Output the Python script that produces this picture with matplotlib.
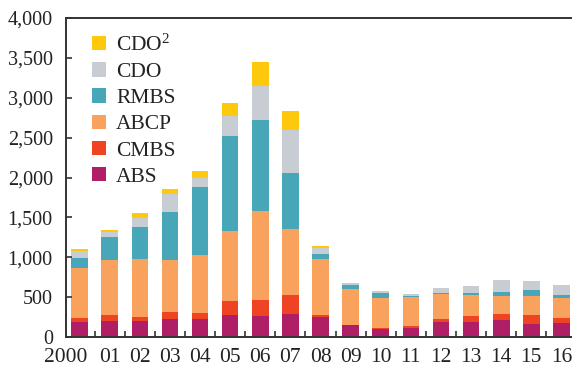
import matplotlib
matplotlib.use("Agg")
import matplotlib.pyplot as plt
import matplotlib.transforms as mtransforms
import numpy as np

plt.rcParams['font.family'] = ['Liberation Serif', 'DejaVu Serif']
plt.rcParams['mathtext.fontset'] = 'custom'
plt.rcParams['mathtext.rm'] = 'Liberation Serif'
plt.rcParams['mathtext.it'] = 'Liberation Serif:italic'
plt.rcParams['mathtext.bf'] = 'Liberation Serif:bold'

years = ["2000", "01", "02", "03", "04", "05", "06", "07", "08",
         "09", "10", "11", "12", "13", "14", "15", "16"]
abs_ = [185, 200, 200, 225, 225, 275, 262, 287, 250, 150, 100, 112, 187, 187, 212, 162, 175]
cmbs = [50, 75, 50, 87, 75, 175, 200, 238, 25, 0, 12, 25, 38, 75, 75, 113, 62]
abcp = [625, 687, 725, 650, 725, 875, 1113, 825, 700, 450, 375, 363, 312, 263, 225, 237, 250]
rmbs = [125, 288, 400, 600, 850, 1200, 1150, 712, 62, 50, 63, 12, 13, 25, 50, 75, 38]
cdo = [90, 62, 115, 225, 125, 250, 425, 538, 75, 25, 25, 25, 62, 87, 150, 113, 125]
cdo2 = [25, 25, 60, 63, 87, 162, 300, 237, 25, 0, 0, 0, 0, 0, 0, 0, 0]

series = [("ABS", abs_, "#B01E65"),
          ("CMBS", cmbs, "#EE4424"),
          ("ABCP", abcp, "#F9A25E"),
          ("RMBS", rmbs, "#47A7B9"),
          ("CDO", cdo, "#C8CDD3"),
          ("CDO$^{\\mathrm{2}}$", cdo2, "#FEC90D")]

fig = plt.figure(figsize=(5.72, 3.66), dpi=100)
ax = fig.add_axes([66/572, 1-337/366, (572-66)/572, (337-18)/366])

x = np.arange(len(years))
bottom = np.zeros(len(years))
handles = []
for name, vals, col in series:
    v = np.array(vals, dtype=float)
    b = ax.bar(x, v, bottom=bottom, width=0.55, color=col, label=name, linewidth=0)
    bottom += v
    handles.append(b)

ax.set_xlim(-0.45, 16.35)
ax.set_ylim(0, 4000)
yt = np.arange(0, 4001, 500)
ax.set_yticks(yt)
ax.set_yticklabels([f"{int(t):,}" for t in yt])
ax.set_xticks(x)
ax.set_xticklabels(years)
ax.set_xticks(np.arange(0.5, 16, 1), minor=True)

ax.spines["right"].set_visible(False)
for s in ["left", "top", "bottom"]:
    ax.spines[s].set_color("#333333")
    ax.spines[s].set_linewidth(1.4)

ax.tick_params(axis="y", direction="in", length=4, width=1.2, color="#333333",
               labelsize=14.5, pad=9.5, labelcolor="#222222")
ax.tick_params(axis="x", which="major", length=0, labelsize=15.5, pad=8, labelcolor="#222222")
ax.tick_params(axis="x", which="minor", direction="in", length=4, width=1.2, color="#333333")

lab0 = ax.get_xticklabels()[0]
lab0.set_horizontalalignment("right")
lab0.set_transform(lab0.get_transform() +
                   mtransforms.ScaledTranslation(8/100, 0, fig.dpi_scale_trans))

leg = ax.legend(handles[::-1], [h.get_label() for h in handles[::-1]],
                loc="upper left", bbox_to_anchor=(0.035, 0.975), frameon=False,
                fontsize=15.5, handlelength=0.65, handleheight=0.65,
                handletextpad=0.45, labelspacing=0.3, borderaxespad=0)
for t in leg.get_texts():
    t.set_color("#222222")

fig.savefig("out.png", dpi=100)
